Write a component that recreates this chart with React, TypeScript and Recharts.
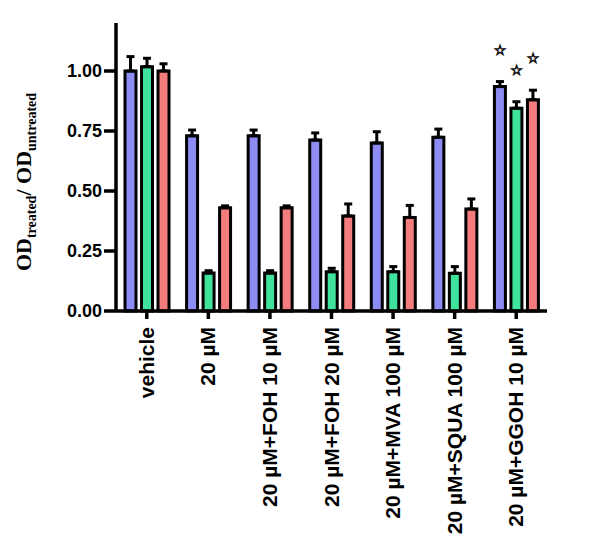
import { BarChart, Bar, XAxis, YAxis, ErrorBar, LabelList } from 'recharts';

const categories = [
  'vehicle',
  '20 µM',
  '20 µM+FOH 10 µM',
  '20 µM+FOH 20 µM',
  '20 µM+MVA 100 µM',
  '20 µM+SQUA 100 µM',
  '20 µM+GGOH 10 µM',
];

const blueVals = [1.0, 0.73, 0.73, 0.712, 0.70, 0.724, 0.935];
const blueErr = [0.06, 0.024, 0.024, 0.03, 0.047, 0.034, 0.021];
const greenVals = [1.018, 0.158, 0.158, 0.164, 0.164, 0.157, 0.845];
const greenErr = [0.035, 0.01, 0.01, 0.014, 0.021, 0.028, 0.027];
const redVals = [1.0, 0.43, 0.43, 0.396, 0.39, 0.425, 0.88];
const redErr = [0.03, 0.008, 0.008, 0.05, 0.05, 0.042, 0.04];
// significance stars (GGOH group only)
const starred = [false, false, false, false, false, false, true];

const yTicks = [0, 0.25, 0.5, 0.75, 1.0];

const data = categories.map((name, i) => ({
  name,
  blue: blueVals[i],
  blueErr: [0, blueErr[i]],
  green: greenVals[i],
  greenErr: [0, greenErr[i]],
  red: redVals[i],
  redErr: [0, redErr[i]],
}));

const SANS = '"Liberation Sans", Arial, sans-serif';

function XTick(props: any) {
  const { x, y, payload } = props;
  return (
    <text
      transform={`translate(${x + 7},${y + 6}) rotate(-90)`}
      textAnchor="end"
      fontFamily={SANS}
      fontWeight="bold"
      fontSize={21}
      fill="#000"
    >
      {payload.value}
    </text>
  );
}

function makeStar(errs: number[]) {
  return (props: any) => {
    const { index } = props;
    if (!starred[index]) return null;
    const vb = props.viewBox || props;
    const { x, y, width, height, value } = vb;
    const v = props.value ?? value;
    const pxPerUnit = height / v;
    const top = y - errs[index] * pxPerUnit;
    return (
      <text
        x={x + width / 2}
        y={top - 27}
        textAnchor="middle"
        fontFamily='"DejaVu Sans", sans-serif'
        fontSize={14}
        fill="#111"
        stroke="#111"
        strokeWidth={0.9}
      >
        ☆
      </text>
    );
  };
}

function YLabel() {
  return (
    <text
      transform="translate(31,182) rotate(-90)"
      textAnchor="middle"
      fontFamily='"Liberation Serif", "Times New Roman", serif'
      fontWeight="bold"
      fill="#000"
    >
      <tspan fontSize={22}>OD</tspan>
      <tspan fontSize={14} dy={5}>treated</tspan>
      <tspan fontSize={22} dy={-5}>/ OD</tspan>
      <tspan fontSize={14} dy={5}>untreated</tspan>
    </text>
  );
}

export default function App() {
  return (
    <div style={{ position: 'absolute', left: 0, top: 0, background: '#fff' }}>
      <BarChart
        width={600}
        height={543}
        data={data}
        margin={{ top: 23, right: 53, bottom: 0, left: 0 }}
        barSize={11}
        barGap={5.5}
      >
        <XAxis
          dataKey="name"
          interval={0}
          height={232}
          axisLine={{ stroke: '#000', strokeWidth: 3.5 }}
          tickLine={{ stroke: '#000', strokeWidth: 3.5 }}
          tickSize={8}
          tick={<XTick />}
        />
        <YAxis
          domain={[0, 1.2]}
          ticks={yTicks}
          width={116}
          axisLine={{ stroke: '#000', strokeWidth: 3.5 }}
          tickLine={{ stroke: '#000', strokeWidth: 3.5 }}
          tickSize={12}
          tickMargin={2}
          tickFormatter={(v: number) => v.toFixed(2)}
          tick={{ fill: '#000', fontFamily: SANS, fontWeight: 'bold', fontSize: 18 }}
          label={{ content: () => <YLabel /> }}
        />
        <Bar dataKey="blue" fill="#8c8cf4" stroke="#000" strokeWidth={3} isAnimationActive={false}>
          <ErrorBar dataKey="blueErr" width={4} stroke="#000" strokeWidth={3} isAnimationActive={false} />
          <LabelList dataKey="blue" content={makeStar(blueErr)} />
        </Bar>
        <Bar dataKey="green" fill="#40e39c" stroke="#000" strokeWidth={3} isAnimationActive={false}>
          <ErrorBar dataKey="greenErr" width={4} stroke="#000" strokeWidth={3} isAnimationActive={false} />
          <LabelList dataKey="green" content={makeStar(greenErr)} />
        </Bar>
        <Bar dataKey="red" fill="#f47c7c" stroke="#000" strokeWidth={3} isAnimationActive={false}>
          <ErrorBar dataKey="redErr" width={4} stroke="#000" strokeWidth={3} isAnimationActive={false} />
          <LabelList dataKey="red" content={makeStar(redErr)} />
        </Bar>
      </BarChart>
    </div>
  );
}
